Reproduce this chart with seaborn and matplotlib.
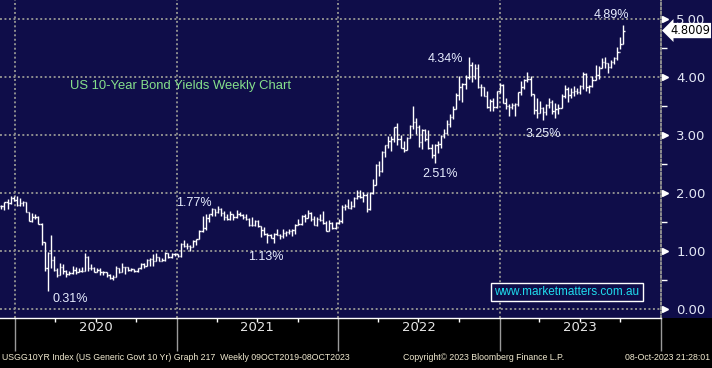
import matplotlib
matplotlib.use('Agg')
import matplotlib.pyplot as plt
from matplotlib import font_manager
from matplotlib.patches import Rectangle
from matplotlib.transforms import blended_transform_factory
import numpy as np
import pandas as pd
import seaborn as sns

# weekly bars, week ending Sunday, 01DEC2019 .. 08OCT2023
high = [
    1.79, 1.84, 1.90, 1.94, 1.94,
    # 2020
    1.94, 1.91, 1.87, 1.85, 1.68, 1.66, 1.64, 1.61, 1.49, 1.16, 0.98, 1.28, 0.91,
    0.70, 0.79, 0.78, 0.67, 0.66, 0.74, 0.73, 0.71, 0.72, 0.96, 0.91, 0.77, 0.73,
    0.71, 0.70, 0.66, 0.64, 0.61, 0.59, 0.74, 0.71, 0.79, 0.73, 0.72, 0.71, 0.69,
    0.71, 0.80, 0.79, 0.87, 0.88, 0.95, 0.97, 0.90, 0.88, 0.98, 0.97, 0.96, 0.96, 0.95,
    # 2021
    1.13, 1.19, 1.14, 1.11, 1.19, 1.21, 1.36, 1.61, 1.63, 1.64, 1.75, 1.72,
    1.78, 1.74, 1.69, 1.64, 1.69, 1.63, 1.70, 1.68, 1.64, 1.64, 1.57, 1.59, 1.54,
    1.53, 1.43, 1.42, 1.31, 1.30, 1.31, 1.38, 1.30, 1.38, 1.34, 1.38, 1.38, 1.46,
    1.56, 1.62, 1.63, 1.70, 1.68, 1.61, 1.58, 1.63, 1.69, 1.51, 1.53, 1.50, 1.50, 1.56,
    # 2022
    1.80, 1.81, 1.90, 1.87, 1.93, 2.06, 2.05, 2.01, 2.00, 2.01, 2.24, 2.50,
    2.56, 2.73, 2.83, 2.98, 2.98, 3.13, 3.20, 3.00, 2.89, 2.96, 3.18, 3.50, 3.30,
    3.17, 3.10, 3.10, 3.08, 2.84, 2.84, 2.89, 3.00, 3.10, 3.26, 3.36, 3.50, 3.72, 4.01,
    3.89, 4.03, 4.34, 4.26, 4.23, 4.23, 3.88, 3.83, 3.75, 3.62, 3.64, 3.76, 3.89,
    # 2023
    3.88, 3.64, 3.53, 3.55, 3.55, 3.74, 3.93, 3.97, 4.09, 4.02, 3.70, 3.63, 3.59,
    3.49, 3.53, 3.64, 3.60, 3.56, 3.54, 3.71, 3.86, 3.82, 3.81, 3.85, 3.81, 3.87,
    4.09, 4.07, 3.87, 4.02, 4.20, 4.19, 4.33, 4.34, 4.24, 4.30, 4.35, 4.51, 4.69,
    4.89,
]
low = [
    1.72, 1.71, 1.73, 1.81, 1.87,
    # 2020
    1.77, 1.77, 1.78, 1.67, 1.51, 1.50, 1.56, 1.46, 1.11, 0.66, 0.31, 0.70, 0.66,
    0.55, 0.58, 0.60, 0.56, 0.58, 0.60, 0.60, 0.63, 0.63, 0.65, 0.65, 0.67, 0.63,
    0.63, 0.59, 0.59, 0.56, 0.52, 0.50, 0.56, 0.62, 0.63, 0.61, 0.65, 0.65, 0.63,
    0.63, 0.69, 0.70, 0.74, 0.75, 0.74, 0.82, 0.82, 0.82, 0.83, 0.88, 0.88, 0.91, 0.90,
    # 2021
    0.90, 1.07, 1.03, 1.00, 1.07, 1.11, 1.20, 1.33, 1.37, 1.50, 1.60, 1.60,
    1.66, 1.61, 1.53, 1.53, 1.54, 1.53, 1.57, 1.61, 1.55, 1.53, 1.43, 1.43, 1.43,
    1.42, 1.25, 1.28, 1.13, 1.22, 1.13, 1.28, 1.21, 1.23, 1.26, 1.29, 1.26, 1.30,
    1.45, 1.45, 1.50, 1.57, 1.52, 1.44, 1.43, 1.52, 1.47, 1.34, 1.34, 1.38, 1.38, 1.46,
    # 2022
    1.48, 1.70, 1.74, 1.72, 1.76, 1.90, 1.92, 1.84, 1.68, 1.71, 1.99, 2.13,
    2.30, 2.37, 2.62, 2.78, 2.72, 2.88, 2.82, 2.77, 2.71, 2.74, 2.94, 3.10, 3.01,
    2.79, 2.76, 2.90, 2.75, 2.60, 2.51, 2.69, 2.78, 2.95, 3.02, 3.13, 3.27, 3.44, 3.60,
    3.57, 3.80, 3.97, 3.92, 3.96, 3.81, 3.67, 3.67, 3.46, 3.41, 3.42, 3.47, 3.73,
    # 2023
    3.55, 3.44, 3.32, 3.45, 3.33, 3.50, 3.69, 3.80, 3.92, 3.68, 3.37, 3.29, 3.38,
    3.25, 3.34, 3.46, 3.37, 3.30, 3.37, 3.46, 3.64, 3.57, 3.63, 3.67, 3.70, 3.70,
    3.80, 3.76, 3.73, 3.82, 3.95, 3.97, 4.15, 4.16, 4.07, 4.15, 4.23, 4.30, 4.49,
    4.57,
]
close = [
    1.78, 1.84, 1.82, 1.92, 1.88,
    # 2020
    1.79, 1.82, 1.84, 1.68, 1.51, 1.58, 1.59, 1.47, 1.15, 0.71, 0.96, 0.85, 0.68,
    0.59, 0.73, 0.65, 0.60, 0.62, 0.68, 0.64, 0.66, 0.65, 0.90, 0.70, 0.70, 0.64,
    0.67, 0.64, 0.63, 0.59, 0.53, 0.56, 0.71, 0.63, 0.72, 0.72, 0.67, 0.69, 0.66,
    0.70, 0.78, 0.74, 0.84, 0.87, 0.82, 0.89, 0.83, 0.84, 0.97, 0.90, 0.95, 0.94, 0.91,
    # 2021
    1.12, 1.08, 1.09, 1.07, 1.17, 1.20, 1.34, 1.40, 1.57, 1.63, 1.72, 1.67,
    1.72, 1.66, 1.58, 1.56, 1.63, 1.58, 1.63, 1.62, 1.59, 1.55, 1.45, 1.44, 1.52,
    1.43, 1.36, 1.30, 1.28, 1.22, 1.30, 1.28, 1.26, 1.31, 1.32, 1.34, 1.37, 1.45,
    1.46, 1.61, 1.57, 1.65, 1.55, 1.45, 1.56, 1.54, 1.48, 1.34, 1.48, 1.40, 1.49, 1.51,
    # 2022
    1.76, 1.78, 1.75, 1.78, 1.92, 1.94, 1.93, 1.97, 1.73, 2.00, 2.14, 2.48,
    2.38, 2.71, 2.83, 2.90, 2.93, 3.13, 2.93, 2.78, 2.74, 2.94, 3.16, 3.23, 3.13,
    2.88, 3.08, 2.93, 2.77, 2.65, 2.83, 2.84, 2.98, 3.04, 3.19, 3.31, 3.45, 3.69, 3.83,
    3.88, 4.00, 4.21, 4.01, 4.16, 3.82, 3.83, 3.68, 3.49, 3.58, 3.48, 3.75, 3.87,
    # 2023
    3.56, 3.50, 3.48, 3.51, 3.53, 3.74, 3.82, 3.95, 3.96, 3.70, 3.43, 3.38, 3.47,
    3.39, 3.52, 3.57, 3.42, 3.44, 3.46, 3.68, 3.80, 3.69, 3.74, 3.76, 3.74, 3.84,
    4.06, 3.82, 3.84, 3.95, 4.04, 4.16, 4.25, 4.24, 4.18, 4.26, 4.33, 4.43, 4.57,
    4.80,
]
first_open = 1.77
last_price = 4.8009

years = [2020, 2021, 2022, 2023]
y_ticks = [0, 1, 2, 3, 4, 5]

# (week, value, label, offset in pixels)
callouts = [
    ('2020-03-15', 0.31, '0.31%', (22, -8)),
    ('2021-04-04', 1.77, '1.77%', (-24, 3)),
    ('2021-08-08', 1.13, '1.13%', (-8, -14)),
    ('2022-08-07', 2.51, '2.51%', (5, -11)),
    ('2022-10-23', 4.34, '4.34%', (-23, -2)),
    ('2023-04-09', 3.25, '3.25%', (0, -14)),
    ('2023-10-08', 4.89, '4.89%', (-12, 10)),
]

NAVY = '#0f0d49'
GRID = '#8e8e8e'


def pick_font(names, default):
    for name in names:
        try:
            font_manager.findfont(name, fallback_to_default=False)
            return name
        except ValueError:
            continue
    return default


sns.set_theme(style='dark', rc={'axes.facecolor': NAVY, 'figure.facecolor': 'black'})
plt.rcParams['font.family'] = ['Liberation Sans', 'DejaVu Sans']
narrow = pick_font(['Liberation Sans Narrow', 'Arial Narrow'], None)

df = pd.DataFrame({
    'week': pd.date_range(end='2023-10-08', periods=len(close), freq='W-SUN'),
    'high': high, 'low': low, 'close': close,
})
df['open'] = [first_open] + close[:-1]

fig = plt.figure(figsize=(7.12, 3.68), dpi=100)
ax = fig.add_axes([0, 50 / 368, 661 / 712, 318 / 368])
fig.add_artist(Rectangle((661 / 712, 50 / 368), 51 / 712, 318 / 368,
                         transform=fig.transFigure, fc=NAVY, ec='none', zorder=-5))

# OHLC bars
tick = pd.Timedelta(days=3)
ax.vlines(df['week'], df['low'], df['high'], color='white', lw=1.0, zorder=3)
ax.hlines(df['open'], df['week'] - tick, df['week'], color='white', lw=1.0, zorder=3)
ax.hlines(df['close'], df['week'], df['week'] + tick, color='white', lw=1.0, zorder=3)

# 58 px per 1.00, zero line 9 px above the bottom edge
ax.set_xlim(pd.Timestamp('2019-11-28'), pd.Timestamp('2024-01-01'))
ax.set_ylim(-9 / 58, 309 / 58)

# x axis: year boundaries + quarter ticks
bounds = [pd.Timestamp(f'{y}-01-01') for y in years + [2024]]
quarters = [pd.Timestamp(f'{y}-{m:02d}-01') for y in years for m in (4, 7, 10)]
ax.set_xticks(bounds)
ax.set_xticks(quarters, minor=True)
ax.set_xticklabels([])
ax.tick_params(axis='x', which='major', length=24, width=1, color='#9a9a9a',
               direction='out', bottom=True)
ax.tick_params(axis='x', which='minor', length=3, width=1, color='white',
               direction='out', bottom=True)
for y in years:
    ax.text(pd.Timestamp(f'{y}-07-02'), -0.03, str(y), transform=ax.get_xaxis_transform(),
            ha='center', va='center', color='#e6e6e6', fontsize=9.5,
            family=[narrow or 'DejaVu Sans', 'DejaVu Sans'])

# y axis on the right
ax.yaxis.tick_right()
ax.set_yticks(y_ticks)
ax.set_yticklabels([f'{v:.2f}' for v in y_ticks])
ax.set_yticks(np.array(y_ticks[:-1]) + 0.5, minor=True)
ax.tick_params(axis='y', which='major', length=0, pad=11, labelsize=9.5,
               labelcolor='#e2e6f4', right=True)
ax.tick_params(axis='y', which='minor', length=4, width=1, color='white',
               direction='out', right=True)
for lab in ax.get_yticklabels():
    lab.set_family(['DejaVu Sans'])
tri = blended_transform_factory(ax.transAxes, ax.transData)
ax.plot([1.006] * len(y_ticks), y_ticks, ls='none', marker='>', ms=5, color='white',
        mec='white', transform=tri, clip_on=False, zorder=5)

ax.grid(True, which='major', color=GRID, linestyle=(0, (1, 1.3)), linewidth=1.4)
for side in ['top', 'left']:
    ax.spines[side].set_visible(False)
ax.spines['bottom'].set_color('white')
ax.spines['bottom'].set_linewidth(1)
ax.spines['right'].set_color(GRID)
ax.spines['right'].set_linestyle((0, (1, 1.3)))
ax.spines['right'].set_linewidth(1.4)

# last price tag
ax.text(1 + 9 / 661, last_price, f'{last_price:.4f}', transform=tri, ha='left',
        va='center', fontsize=8.3, color='black', family=['DejaVu Sans'],
        bbox=dict(boxstyle='larrow,pad=0.1', fc='white', ec='none'),
        clip_on=False, zorder=6)

# callouts
for week, value, label, off in callouts:
    ax.annotate(label, (pd.Timestamp(week), value), xytext=off,
                textcoords='offset pixels', ha='center', va='center',
                color='#e8eeff', fontsize=9)

ax.text(70 / 661, (318 - 86) / 318, 'US 10-Year Bond Yields Weekly Chart',
        transform=ax.transAxes, ha='left', va='center', color='#86e08c', fontsize=9.4)
ax.text(567 / 661, 26 / 318, 'www.marketmatters.com.au', transform=ax.transAxes,
        ha='center', va='center', color='#1fdcee', fontsize=8.5,
        bbox=dict(boxstyle='square,pad=0.25', fc=NAVY, ec='white', lw=1))

# footer
foot = dict(color='#f1ead0', va='center', fontsize=7.5 if narrow else 6.3,
            family=[narrow or 'Liberation Sans', 'DejaVu Sans'])
fig.text(2 / 712, 10 / 368,
         'USGG10YR Index (US Generic Govt 10 Yr) Graph 217  Weekly 09OCT2019-08OCT2023',
         ha='left', **foot)
fig.text(403 / 712, 10 / 368, 'Copyright\u00a9 2023 Bloomberg Finance L.P.', ha='left', **foot)
fig.text(710 / 712, 10 / 368, '08-Oct-2023 21:28:01', ha='right', **foot)

fig.savefig('out.png', dpi=100, facecolor='black')
